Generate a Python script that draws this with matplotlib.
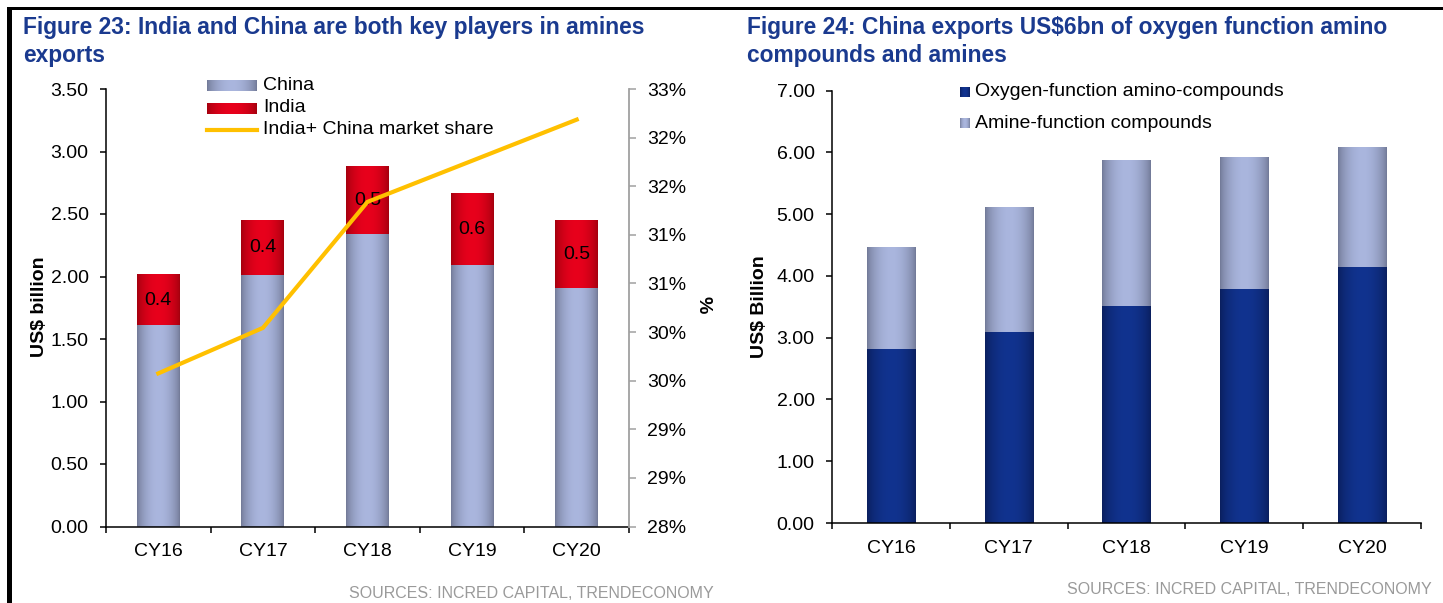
import numpy as np
import matplotlib
matplotlib.use('Agg')
import matplotlib.pyplot as plt
from matplotlib.colors import to_rgb
from matplotlib.lines import Line2D
from matplotlib.patches import Rectangle
from matplotlib.ticker import FixedLocator, FuncFormatter

plt.rcParams['font.family'] = ['Liberation Sans', 'DejaVu Sans']

# data
years = ['CY16', 'CY17', 'CY18', 'CY19', 'CY20']
china = [1.61, 2.01, 2.34, 2.09, 1.91]
india = [0.40, 0.44, 0.54, 0.57, 0.54]
share = [29.75, 30.27, 31.71, 32.18, 32.65]

oxygen = [2.82, 3.10, 3.52, 3.79, 4.15]
amine = [1.64, 2.02, 2.36, 2.13, 1.93]

W, H = 1443, 603
TITLE = '#1a3a8f'
GREY_TXT = '#9a9a9a'
GOLD = '#ffc000'
FS = 14
TFS = 16.4

pal = {'grey': ('#727a97', '#aab6de'),
       'red': ('#a3000e', '#e8001c'),
       'navy': ('#0a1f5e', '#11338f')}


def grad(name, n=64):
    dark, light = [np.array(to_rgb(c)) for c in pal[name]]
    t = np.linspace(0, 1, n)
    f = np.sin(np.pi * t) ** 0.7
    return (dark[None, :] + (light - dark)[None, :] * f[:, None])[None, :, :]


def shade(ax, bars, name):
    for b in bars:
        x0, y0 = b.get_x(), b.get_y()
        ax.imshow(grad(name), extent=[x0, x0 + b.get_width(), y0, y0 + b.get_height()],
                  aspect='auto', zorder=2, interpolation='bilinear')


def fbox(x, y, w, h):
    # pixel box (top-left origin) -> figure fraction
    return [x / W, 1 - (y + h) / H, w / W, h / H]


def style_x(ax, pad):
    ax.set_xlim(-0.5, 4.5)
    ax.set_xticks(range(5))
    ax.set_xticklabels(years)
    ax.xaxis.set_minor_locator(FixedLocator(np.arange(-0.5, 5, 1)))
    ax.tick_params(axis='x', which='major', length=0, pad=pad, labelsize=FS)
    ax.tick_params(axis='x', which='minor', length=4.5, width=1.1, direction='out')


fig = plt.figure(figsize=(W / 100, H / 100), dpi=100)

# ---- Figure 23 ----
ax = fig.add_axes(fbox(106, 89, 523, 437.5))
x = np.arange(len(years))
b1 = ax.bar(x, china, 0.41, color='#8e98ba', zorder=1)
b2 = ax.bar(x, india, 0.41, bottom=china, color='#d00016', zorder=1)
shade(ax, b1, 'grey')
shade(ax, b2, 'red')
for i in range(len(years)):
    ax.text(x[i], china[i] + india[i] / 2, f'{india[i]:.1f}', ha='center', va='center',
            fontsize=FS, zorder=3)
style_x(ax, 12)
ax.set_ylim(0, 3.5)
ax.set_yticks(np.arange(0, 3.51, 0.5))
ax.yaxis.set_major_formatter(FuncFormatter(lambda v, p: f'{v:.2f}'))
ax.tick_params(axis='y', length=4.5, width=1.1, pad=8, labelsize=FS)
for s in ['top', 'right']:
    ax.spines[s].set_visible(False)
for s in ['left', 'bottom']:
    ax.spines[s].set_linewidth(1.1)

ax2 = ax.twinx()
ax2.plot(x, share, color=GOLD, lw=3, solid_joinstyle='miter')
ax2.set_ylim(28, 33)
ax2.set_yticks(np.linspace(28, 33, 10))
ax2.yaxis.set_major_formatter(FuncFormatter(lambda v, p: f'{v:.0f}%'))
ax2.tick_params(axis='y', length=5, width=1.1, pad=8, labelsize=FS, color='#a0a0a0')
for s in ['top', 'left', 'bottom']:
    ax2.spines[s].set_visible(False)
ax2.spines['right'].set_color('#a0a0a0')
ax2.spines['right'].set_linewidth(1.3)
ax2.set_xlim(-0.5, 4.5)

fig.text(40 / W, 1 - 307 / H, 'US$ billion', rotation=90, ha='center', va='center',
         fontsize=FS, fontweight='bold')
fig.text(703 / W, 1 - 305 / H, '%', rotation=270, ha='center', va='center',
         fontsize=FS, fontweight='bold')

# legend
for yy, name in [(80, 'grey'), (103, 'red')]:
    la = fig.add_axes(fbox(207, yy, 50, 11))
    la.imshow(grad(name), aspect='auto', extent=[0, 1, 0, 1], interpolation='bilinear')
    la.axis('off')
fig.add_artist(Line2D([207 / W, 257 / W], [1 - 130 / H, 1 - 130 / H], color=GOLD, lw=3,
                      transform=fig.transFigure))
for yy, lab in [(86, 'China'), (108, 'India'), (130, 'India+ China market share')]:
    fig.text(263 / W, 1 - yy / H, lab, ha='left', va='center', fontsize=FS)

fig.text(23 / W, 1 - 34 / H, 'Figure 23: India and China are both key players in amines',
         color=TITLE, fontsize=TFS, fontweight='bold', va='baseline')
fig.text(23 / W, 1 - 62 / H, 'exports', color=TITLE, fontsize=TFS, fontweight='bold',
         va='baseline')
fig.text(714 / W, 1 - 598 / H, 'SOURCES: INCRED CAPITAL, TRENDECONOMY', color=GREY_TXT,
         fontsize=11.5, ha='right', va='baseline')

# ---- Figure 24 ----
bx = fig.add_axes(fbox(832, 90.7, 589, 432.3))
c1 = bx.bar(x, oxygen, 0.41, color='#0e2a7a', zorder=1)
c2 = bx.bar(x, amine, 0.41, bottom=oxygen, color='#8e98ba', zorder=1)
shade(bx, c1, 'navy')
shade(bx, c2, 'grey')
style_x(bx, 12.5)
bx.set_ylim(0, 7)
bx.set_yticks(np.arange(0, 7.01, 1))
bx.yaxis.set_major_formatter(FuncFormatter(lambda v, p: f'{v:.2f}'))
bx.tick_params(axis='y', length=4.5, width=1.1, pad=8, labelsize=FS)
for s in ['top', 'right']:
    bx.spines[s].set_visible(False)
for s in ['left', 'bottom']:
    bx.spines[s].set_linewidth(1.1)

fig.text(760 / W, 1 - 307 / H, 'US$ Billion', rotation=90, ha='center', va='center',
         fontsize=FS, fontweight='bold')

for yy, name, lab in [(92, 'navy', 'Oxygen-function amino-compounds'),
                      (123, 'grey', 'Amine-function compounds')]:
    la = fig.add_axes(fbox(960, yy - 5, 10, 10))
    la.imshow(grad(name), aspect='auto', extent=[0, 1, 0, 1], interpolation='bilinear')
    la.axis('off')
    fig.text(975 / W, 1 - yy / H, lab, ha='left', va='center', fontsize=FS)

fig.text(747 / W, 1 - 34 / H, 'Figure 24: China exports US$6bn of oxygen function amino',
         color=TITLE, fontsize=TFS, fontweight='bold', va='baseline')
fig.text(747 / W, 1 - 62 / H, 'compounds and amines', color=TITLE, fontsize=TFS,
         fontweight='bold', va='baseline')
fig.text(1432 / W, 1 - 594 / H, 'SOURCES: INCRED CAPITAL, TRENDECONOMY', color=GREY_TXT,
         fontsize=11.5, ha='right', va='baseline')

# page frame
fig.add_artist(Rectangle((7 / W, 1 - 10 / H), 1 - 7 / W, 3 / H, color='black',
                         transform=fig.transFigure, lw=0))
fig.add_artist(Rectangle((7 / W, 0), 5 / W, 1 - 7 / H, color='black',
                         transform=fig.transFigure, lw=0))

fig.savefig('out.png', dpi=100)
